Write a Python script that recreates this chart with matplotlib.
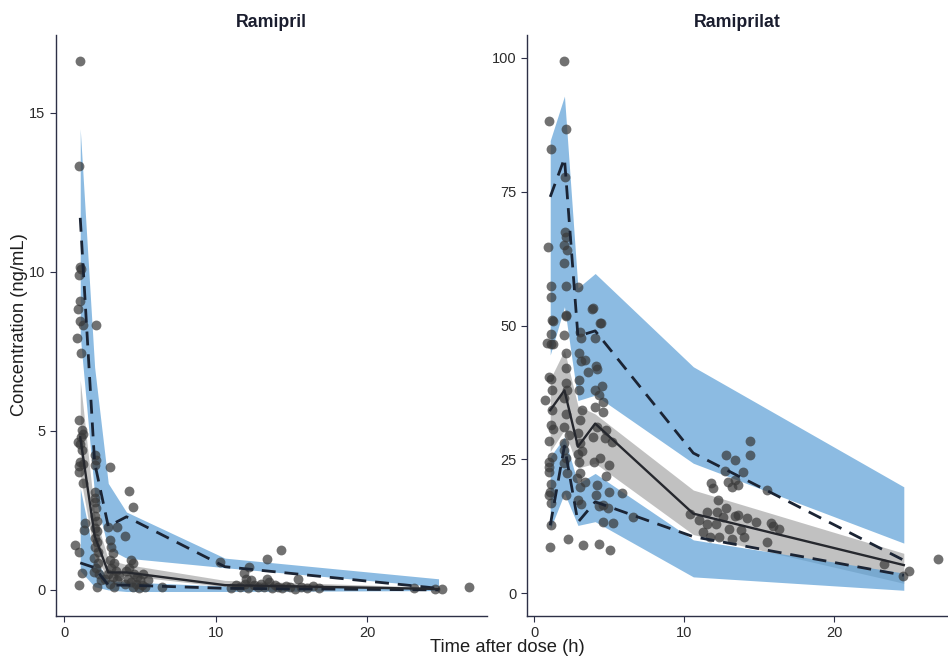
import matplotlib
matplotlib.use("Agg")
import matplotlib.pyplot as plt

plt.rcParams['font.family'] = ['Liberation Sans', 'DejaVu Sans']

# bins (time after dose, h)
ram_bins = [1.05, 2.0, 2.9, 4.1, 10.6, 24.7]
rat_bins = [1.05, 2.0, 2.9, 4.05, 10.6, 24.65]

# Ramipril: simulated CIs and observed percentiles
ram_hi_top = [14.5, 7.0, 3.35, 2.45, 1.0, 0.35]
ram_hi_bot = [8.0, 3.0, 1.3, 1.0, 0.7, 0.1]
ram_med_top = [6.6, 2.4, 0.95, 0.8, 0.3, 0.08]
ram_med_bot = [3.6, 1.1, 0.35, 0.45, 0.1, 0.02]
ram_lo_top = [3.2, 1.0, 0.3, 0.25, 0.12, 0.04]
ram_lo_bot = [0.6, 0.1, 0.0, -0.05, -0.05, -0.02]
ram_p95 = [11.7, 4.0, 2.0, 2.3, 0.73, 0.05]
ram_p50 = [4.8, 1.7, 0.55, 0.55, 0.15, 0.03]
ram_p05 = [0.85, 0.7, 0.15, 0.15, 0.05, 0.0]

# Ramiprilat
rat_hi_top = [84.5, 92.8, 57.0, 59.7, 42.3, 19.9]
rat_hi_bot = [44.5, 53.5, 36.0, 37.0, 24.3, 9.4]
rat_med_top = [40.0, 45.4, 35.0, 33.5, 19.3, 7.5]
rat_med_bot = [26.5, 30.5, 23.4, 24.3, 11.0, 1.9]
rat_lo_top = [25.5, 29.2, 20.5, 22.4, 10.0, 3.8]
rat_lo_bot = [12.0, 18.7, 12.7, 13.4, 3.1, 0.6]
rat_p95 = [74.0, 81.2, 48.0, 49.0, 26.2, 6.2]
rat_p50 = [34.2, 37.9, 27.4, 31.7, 14.9, 5.3]
rat_p05 = [12.7, 27.5, 13.3, 17.1, 10.6, 3.4]

# observed data
ram_t = [1.06, 1.0, 1.05, 1.0, 1.1, 1.06, 0.93, 1.06, 1.22, 0.82, 1.08, 1.0, 1.15, 1.1, 0.88,
         1.05, 1.2, 1.05, 1.0, 0.95, 1.26, 1.37, 1.3, 0.71, 1.0, 1.15, 1.0, 1.15, 1.2,
         2.08, 2.03, 2.1, 2.03, 2.0, 2.05, 2.0, 2.1, 2.05, 2.15, 2.05, 2.15, 2.0, 2.15, 2.05,
         2.2, 1.95, 2.25, 2.1, 2.3, 2.14, 2.4, 1.95,
         3.03, 2.85, 3.47, 3.0, 3.1, 3.2, 3.0, 3.3, 3.1, 3.4, 2.9, 3.2, 3.5, 3.0, 3.3, 2.7, 3.6,
         4.3, 4.53, 4.02, 4.4, 4.5, 4.3, 4.1, 4.6, 4.8, 4.2, 5.0, 4.4, 4.7, 5.1, 4.5, 4.9, 5.3,
         5.5, 4.0, 5.2,
         6.45, 10.3, 11.86, 12.2, 13.36, 14.3, 15.4,
         11.0, 11.3, 11.6, 11.9, 12.1, 12.3, 12.5, 12.8, 13.0, 13.2, 13.5, 13.7, 13.9, 14.1,
         14.4, 14.6, 14.9, 15.2, 15.6, 16.0, 16.4, 16.8, 12.0, 13.4,
         23.1, 24.44, 24.9, 26.7]
ram_c = [16.63, 13.34, 10.17, 9.9, 10.1, 9.09, 8.84, 8.45, 8.33, 7.91, 7.46, 5.35, 5.03, 4.8, 4.66,
         4.6, 4.9, 4.03, 3.9, 3.72, 3.35, 2.12, 1.9, 1.42, 1.2, 0.52, 0.16, 4.4, 3.95,
         8.33, 4.25, 4.1, 3.93, 3.09, 2.9, 2.75, 2.58, 2.33, 2.17, 1.96, 1.85, 1.64, 1.5, 1.36,
         1.2, 1.0, 0.85, 0.7, 0.5, 0.1, 0.3, 0.55,
         3.86, 1.99, 1.99, 1.57, 1.36, 1.15, 0.94, 0.85, 0.7, 0.6, 0.5, 0.4, 0.3, 0.2, 0.1, 0.35, 0.45,
         3.11, 2.6, 1.7, 0.94, 0.85, 0.7, 0.6, 0.5, 0.4, 0.35, 0.3, 0.25, 0.2, 0.15, 0.1, 0.05, 0.1,
         0.3, 0.2, 0.5,
         0.08, 0.88, 0.52, 0.73, 0.98, 1.26, 0.34,
         0.05, 0.15, 0.1, 0.2, 0.05, 0.3, 0.15, 0.08, 0.2, 0.1, 0.25, 0.05, 0.15, 0.1,
         0.05, 0.12, 0.08, 0.03, 0.1, 0.06, 0.12, 0.05, 0.35, 0.35,
         0.05, 0.02, 0.02, 0.1]

rat_t = [1.0, 1.11, 0.89, 1.11, 1.07, 1.22, 1.18, 1.07, 1.1, 0.85, 1.25, 0.96, 1.07, 1.18, 0.73,
         1.18, 1.07, 1.25, 1.0, 0.96, 1.07, 0.96, 1.07, 1.07, 1.02, 1.0, 1.15, 1.05, 0.95,
         2.0, 2.11, 2.05, 2.05, 2.11, 1.98, 2.15, 2.0, 2.11, 2.09, 2.07, 2.0, 2.13, 2.07, 2.07,
         2.2, 1.95, 2.1, 2.0, 2.0, 2.07, 2.0, 2.2, 2.13, 2.22, 2.3, 1.95,
         2.89, 3.07, 3.1, 2.97, 3.1, 3.4, 2.95, 3.0, 3.15, 3.05, 2.9, 3.05, 2.9, 3.0, 3.05, 3.4,
         3.05, 2.9, 3.1, 3.22, 2.85, 3.2,
         3.87, 4.42, 3.9, 4.4, 4.05, 4.09, 3.6, 4.2, 4.05, 4.5, 4.3, 4.6, 4.05, 4.6, 3.9, 4.7,
         5.18, 4.18, 4.09, 4.6, 4.3, 4.9, 4.6, 5.27, 4.29, 5.02, 4.0, 4.4, 4.8, 5.0, 4.2, 4.8, 5.0,
         5.85, 6.58, 10.4, 14.4, 14.4, 12.8, 13.4, 13.95, 12.7, 13.4, 12.9, 13.2, 13.6, 11.8,
         11.9, 15.5, 12.27, 12.75, 11.5, 12.2, 13.4, 13.6, 14.2, 14.8, 15.8, 16.3, 15.9, 11.5,
         12.1, 13.0, 13.8, 11.27, 11.7, 12.3, 14.0, 13.2, 15.5, 11.0, 12.6,
         23.3, 24.6, 25.0, 26.9]
rat_c = [88.1, 82.9, 64.7, 57.4, 55.3, 50.8, 51.0, 48.5, 46.6, 46.7, 46.6, 40.4, 40.0, 37.9, 36.1,
         34.2, 31.4, 30.6, 23.6, 22.7, 20.5, 18.4, 16.9, 12.7, 8.7, 28.5, 25.5, 19.0, 24.5,
         99.3, 86.7, 77.7, 67.5, 66.6, 65.0, 64.0, 61.6, 57.4, 51.8, 51.9, 48.2, 44.8, 42.0, 39.2,
         38.0, 36.5, 33.5, 31.0, 26.7, 25.2, 24.3, 22.4, 18.3, 10.1, 29.5, 28.0,
         57.1, 48.8, 47.6, 44.8, 43.3, 43.6, 39.8, 37.9, 34.2, 32.4, 30.0, 28.0, 26.0, 24.5, 22.4, 20.8,
         19.9, 17.4, 16.7, 9.0, 21.5, 26.5,
         53.0, 50.5, 53.2, 50.5, 47.6, 42.5, 41.3, 41.8, 37.9, 38.8, 37.0, 35.7, 34.8, 33.9, 29.2, 29.0,
         28.3, 20.2, 18.4, 16.6, 16.3, 15.9, 13.4, 13.1, 9.3, 8.2, 24.5, 25.2, 22.0, 24.0, 31.0, 30.5, 18.9,
         18.7, 14.2, 14.9, 28.4, 25.9, 25.8, 24.9, 22.7, 22.9, 21.1, 20.8, 19.8, 20.2, 20.7,
         19.6, 19.3, 17.4, 16.0, 15.2, 15.2, 14.5, 14.6, 14.0, 13.4, 13.2, 12.0, 12.6, 13.0,
         13.0, 12.1, 11.8, 11.5, 10.6, 10.6, 10.6, 10.1, 9.6, 13.8, 14.2,
         5.5, 3.2, 4.2, 6.4]

blue = '#5b9fd6'
grey = '#999999'
line_col = '#1b2434'
axis_col = '#2d3047'

fig = plt.figure(figsize=(9.48, 6.56), dpi=100)
ax1 = fig.add_axes([56 / 948, 40 / 656, 431 / 948, 581 / 656])
ax2 = fig.add_axes([527 / 948, 40 / 656, 421 / 948, 581 / 656])


def vpc(ax, bins, hi_top, hi_bot, med_top, med_bot, lo_top, lo_bot, p95, p50, p05, t, c, title):
    ax.fill_between(bins, hi_bot, hi_top, color=blue, alpha=0.7, lw=0)
    ax.fill_between(bins, med_bot, med_top, color=grey, alpha=0.6, lw=0)
    ax.fill_between(bins, lo_bot, lo_top, color=blue, alpha=0.7, lw=0)
    ax.scatter(t, c, s=50, color='#3a3a3a', alpha=0.72, lw=0, zorder=3)
    ax.plot(bins, p95, color=line_col, lw=2.0, ls=(0, (5, 3.2)), zorder=4)
    ax.plot(bins, p05, color=line_col, lw=2.0, ls=(0, (5, 3.2)), zorder=4)
    ax.plot(bins, p50, color='#26282e', lw=1.7, zorder=4)
    ax.set_title(title, fontsize=12.8, fontweight='bold', color='#1a1d2e', pad=6)
    for s in ['top', 'right']:
        ax.spines[s].set_visible(False)
    for s in ['left', 'bottom']:
        ax.spines[s].set_color(axis_col)
        ax.spines[s].set_linewidth(1.0)
    ax.tick_params(colors=axis_col, labelcolor='#2b2b2b', labelsize=10.5, length=4)
    ax.set_xticks([0, 10, 20])


vpc(ax1, ram_bins, ram_hi_top, ram_hi_bot, ram_med_top, ram_med_bot, ram_lo_top, ram_lo_bot,
    ram_p95, ram_p50, ram_p05, ram_t, ram_c, 'Ramipril')
ax1.set_xlim(-0.55, 27.9)
ax1.set_ylim(-0.82, 17.45)
ax1.set_yticks([0, 5, 10, 15])

vpc(ax2, rat_bins, rat_hi_top, rat_hi_bot, rat_med_top, rat_med_bot, rat_lo_top, rat_lo_bot,
    rat_p95, rat_p50, rat_p05, rat_t, rat_c, 'Ramiprilat')
ax2.set_xlim(-0.5, 27.6)
ax2.set_ylim(-4.2, 104.2)
ax2.set_yticks([0, 25, 50, 75, 100])

fig.text(20 / 948, 1 - 325 / 656, 'Concentration (ng/mL)', rotation=90, fontsize=13.2,
         color='#1e1e1e', ha='center', va='center')
fig.text(507 / 948, 1 - 648 / 656, 'Time after dose (h)', fontsize=13.2,
         color='#1e1e1e', ha='center', va='center')

fig.savefig('out.png', dpi=100)
